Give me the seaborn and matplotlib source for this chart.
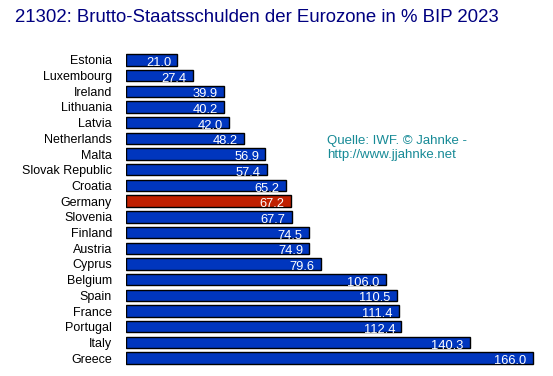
import matplotlib
matplotlib.use("Agg")
import matplotlib.pyplot as plt
import seaborn as sns
import pandas as pd

countries = ["Estonia", "Luxembourg", "Ireland", "Lithuania", "Latvia", "Netherlands",
             "Malta", "Slovak Republic", "Croatia", "Germany", "Slovenia", "Finland",
             "Austria", "Cyprus", "Belgium", "Spain", "France", "Portugal", "Italy", "Greece"]
debt = [21.0, 27.4, 39.9, 40.2, 42.0, 48.2, 56.9, 57.4, 65.2, 67.2, 67.7, 74.5,
        74.9, 79.6, 106.0, 110.5, 111.4, 112.4, 140.3, 166.0]
title = "21302: Brutto-Staatsschulden der Eurozone in % BIP 2023"
source = "Quelle: IWF. © Jahnke -\nhttp://www.jjahnke.net"

blue = "#0036BE"
red = "#C02000"
colors = [red if c == "Germany" else blue for c in countries]

df = pd.DataFrame({"Land": countries, "Wert": debt})

sns.set_theme(style="white")
plt.rcParams["font.family"] = ["Liberation Sans", "DejaVu Sans"]

fig = plt.figure(figsize=(5.53, 3.76), dpi=100)
ax = fig.add_axes([126 / 553, 10 / 376, 427 / 553, 314 / 376])

sns.barplot(data=df, x="Wert", y="Land", hue="Land", palette=colors, legend=False,
            orient="h", width=0.72, saturation=1, edgecolor="black", linewidth=1, ax=ax)

for i, v in enumerate(debt):
    ax.annotate(f"{v:.1f}", xy=(v, i), xytext=(-4.5, -2.2), textcoords="offset points",
                ha="right", va="center", color="white", fontsize=9.3)

ax.set_xlim(0, 174.3)
ax.set_ylim(19.5, -0.5)
ax.set(xlabel=None, ylabel=None, xticks=[])
ax.tick_params(axis="y", length=0, pad=10, labelsize=9, labelcolor="black")
sns.despine(ax=ax, left=True, bottom=True)

fig.text(15 / 553, 1 - 17 / 376, title, fontsize=13.4, color="#000080", va="center", ha="left")
fig.text(327 / 553, 1 - 148 / 376, source, fontsize=9.5, color="#168A96", va="center",
         ha="left", linespacing=1.2)

fig.savefig("out.png", dpi=100)
